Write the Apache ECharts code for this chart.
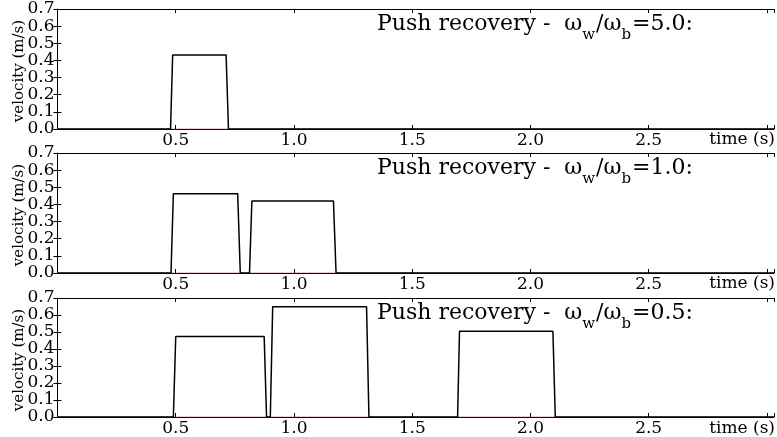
<!DOCTYPE html>
<html>
<head>
<meta charset="utf-8">
<script src="https://cdn.jsdelivr.net/npm/echarts@6/dist/echarts.min.js"></script>
<style>
  html, body { margin: 0; padding: 0; background: #fff; }
  #main { width: 777px; height: 437px; }
</style>
</head>
<body>
<div id="main"></div>
<script>
// time (s) / velocity (m/s) per panel
var t1 = [0, 0.478, 0.487, 0.713, 0.723, 3.03];
var v1 = [0, 0, 0.432, 0.432, 0, 0];
var t2 = [0, 0.480, 0.490, 0.762, 0.773, 0.812, 0.822, 1.167, 1.178, 3.03];
var v2 = [0, 0, 0.463, 0.463, 0, 0, 0.420, 0.420, 0, 0];
var t3 = [0, 0.490, 0.500, 0.874, 0.884, 0.900, 0.910, 1.307, 1.317, 1.692, 1.700, 2.095, 2.105, 3.03];
var v3 = [0, 0, 0.473, 0.473, 0, 0, 0.649, 0.649, 0, 0, 0.505, 0.505, 0, 0];
var ratios = ['5.0', '1.0', '0.5'];
var xTicks = [0.5, 1.0, 1.5, 2.0, 2.5];

var serif = 'DejaVu Serif';
var tops = [9, 153, 298];
var xMax = 3.03;

function pairs(t, v) {
    return t.map(function (x, i) { return [x, v[i]]; });
}
var allT = [t1, t2, t3], allV = [v1, v2, v3];

// measure text so the subscripts can be placed as separate pieces
var ctx = document.createElement('canvas').getContext('2d');
function textW(s, size) {
    ctx.font = size + 'px "' + serif + '"';
    return ctx.measureText(s).width;
}

var bigSize = 22, subSize = 15;
function titlePieces(ratio, top) {
    var parts = [
        ['Push recovery -  ω', false],
        ['w', true],
        ['/ω', false],
        ['b', true],
        ['=' + ratio + ':', false]
    ];
    var x = 377, out = [];
    parts.forEach(function (p) {
        var size = p[1] ? subSize : bigSize;
        out.push({
            type: 'text', x: x, y: top + (p[1] ? 26 : 15.5),
            style: {
                text: p[0], fontFamily: serif, fontSize: size, fill: '#000',
                textAlign: 'left', textVerticalAlign: 'middle'
            }
        });
        x += textW(p[0], size) + (p[1] ? 1 : 0);
    });
    return out;
}

var grids = [], xAxes = [], yAxes = [], series = [], graphics = [];
tops.forEach(function (top, i) {
    grids.push({ left: 57.5, right: -2, top: top, height: 120 });
    // bottom axis with labels
    xAxes.push({
        type: 'value', gridIndex: i, min: 0, max: xMax, interval: 0.5,
        axisLine: { show: true, onZero: false, lineStyle: { color: '#000', width: 1 } },
        axisTick: { show: true, inside: true, length: 4, lineStyle: { color: '#000' } },
        splitLine: { show: false },
        axisLabel: {
            fontFamily: serif, fontSize: 17, color: '#000', margin: 3,
            showMinLabel: true, showMaxLabel: true,
            formatter: function (v) {
                var ok = xTicks.some(function (k) { return Math.abs(k - v) < 1e-6; });
                return ok ? v.toFixed(1) : '';
            }
        }
    });
    yAxes.push({
        type: 'value', gridIndex: i, min: 0, max: 0.7, interval: 0.1,
        axisLine: { show: true, lineStyle: { color: '#000', width: 1 } },
        axisTick: { show: true, inside: true, length: 4, lineStyle: { color: '#000' } },
        splitLine: { show: false },
        axisLabel: {
            fontFamily: serif, fontSize: 17, color: '#000', margin: 3,
            formatter: function (v) { return v.toFixed(1); }
        }
    });
    series.push({
        type: 'line', xAxisIndex: i, yAxisIndex: i, data: [[0, 0], [xMax, 0]],
        showSymbol: false, silent: true, z: 3,
        lineStyle: { color: '#b0306a', width: 1, type: 'dotted' }
    });
    series.push({
        type: 'line', xAxisIndex: i, yAxisIndex: i, data: pairs(allT[i], allV[i]),
        showSymbol: false, silent: true, z: 4,
        lineStyle: { color: '#000', width: 1.5 }
    });
    graphics = graphics.concat(titlePieces(ratios[i], top));
    graphics.push({
        type: 'text', right: 2, top: top + 122,
        style: { text: 'time (s)', fontFamily: serif, fontSize: 17, fill: '#000' }
    });
    graphics.push({
        type: 'text', x: 19, y: top + 62, rotation: Math.PI / 2,
        style: {
            text: 'velocity (m/s)', fontFamily: serif, fontSize: 15, fill: '#000',
            textAlign: 'center', textVerticalAlign: 'middle'
        }
    });
});
// top and right spines (ticks only, no labels)
tops.forEach(function (top, i) {
    xAxes.push({
        type: 'value', gridIndex: i, position: 'top', min: 0, max: xMax, interval: 0.5,
        axisLine: { show: true, onZero: false, lineStyle: { color: '#000', width: 1 } },
        axisTick: { show: true, inside: true, length: 4, lineStyle: { color: '#000' } },
        axisLabel: { show: false }, splitLine: { show: false }
    });
    yAxes.push({
        type: 'value', gridIndex: i, position: 'right', min: 0, max: 0.7, interval: 0.1,
        axisLine: { show: false },
        axisTick: { show: true, inside: true, length: 4, lineStyle: { color: '#000' } },
        axisLabel: { show: false }, splitLine: { show: false }
    });
});

var chart = echarts.init(document.getElementById('main'), null, { renderer: 'canvas' });
chart.setOption({
    animation: false,
    backgroundColor: '#fff',
    grid: grids,
    xAxis: xAxes,
    yAxis: yAxes,
    series: series,
    graphic: graphics
});
</script>
</body>
</html>
